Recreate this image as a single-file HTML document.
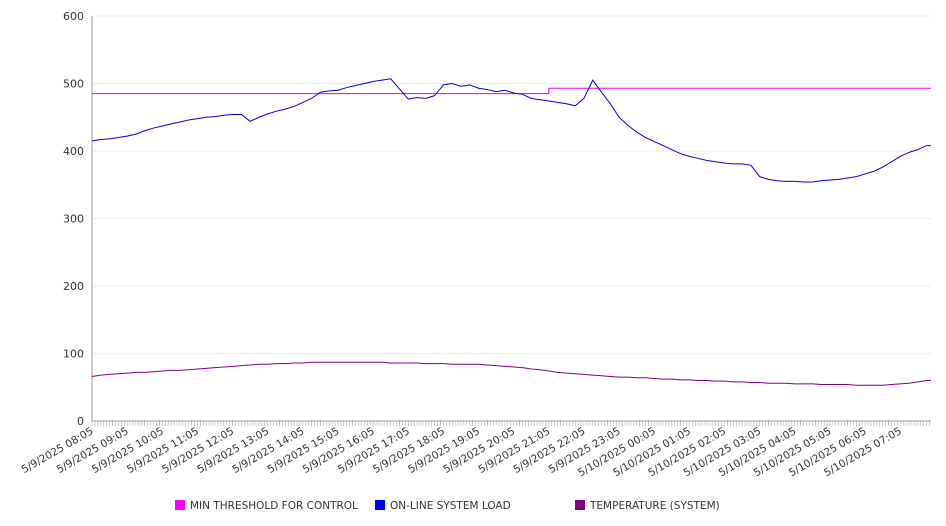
<!DOCTYPE html>
<html><head><meta charset="utf-8"><style>
html,body{margin:0;padding:0;background:#fff;}
svg{display:block;font-family:"DejaVu Sans","Liberation Sans",sans-serif;}
</style></head><body>
<svg id="chart" width="946" height="526" viewBox="0 0 946 526" xmlns="http://www.w3.org/2000/svg"></svg>
<script>
const loadValues=[415,417,418,420,422,425,430,434,437,440,443,446,448,450,451,453,454,454,444,450,455,459,462,466,472,478,487,489,490,494,497,500,503,505,507,492,477,479,478,482,498,500,496,498,493,491,488,490,486,484,478,476,474,472,470,467,478,505,487,470,450,438,428,420,414,408,402,396,392,389,386,384,382,381,381,379,362,358,356,355,355,354,354,356,357,358,360,362,366,370,376,384,392,398,402,408];
const tempValues=[66,68,69,70,71,72,72,73,74,75,75,76,77,78,79,80,81,82,83,84,84,85,85,86,86,87,87,87,87,87,87,87,87,87,86,86,86,86,85,85,85,84,84,84,84,83,82,81,80,79,77,76,74,72,71,70,69,68,67,66,65,65,64,64,63,62,62,61,61,60,60,59,59,58,58,57,57,56,56,56,55,55,55,54,54,54,54,53,53,53,53,54,55,56,58,60];
const thresholdValues=loadValues.map((v,i)=>i<52?485:493);
const yTicks=[0,100,200,300,400,500,600];
const hourLabels=["5/9/2025 08:05","5/9/2025 09:05","5/9/2025 10:05","5/9/2025 11:05","5/9/2025 12:05","5/9/2025 13:05","5/9/2025 14:05","5/9/2025 15:05","5/9/2025 16:05","5/9/2025 17:05","5/9/2025 18:05","5/9/2025 19:05","5/9/2025 20:05","5/9/2025 21:05","5/9/2025 22:05","5/9/2025 23:05","5/10/2025 00:05","5/10/2025 01:05","5/10/2025 02:05","5/10/2025 03:05","5/10/2025 04:05","5/10/2025 05:05","5/10/2025 06:05","5/10/2025 07:05"];

const NS="http://www.w3.org/2000/svg";
const svg=document.getElementById('chart');
const L=92,R=931,T=16,B=421;
const n=loadValues.length;
const xS=i=>L+(i/(n-0.5))*(R-L);
const yS=v=>B-(v/600)*(B-T);
function mk(tag,attrs){const e=document.createElementNS(NS,tag);for(const k in attrs)e.setAttribute(k,attrs[k]);svg.appendChild(e);return e;}

yTicks.forEach(v=>{
  const g=mk('line',{x1:L,x2:R,y1:yS(v),y2:yS(v),stroke:v===0?'#999':'#ebebeb','stroke-width':1});
  
  
  const t=mk('text',{x:L-8,y:yS(v)+4,'text-anchor':'end','font-size':11,fill:'#333'});
  t.textContent=v;
  
  
});
const ax=mk('line',{x1:L,x2:L,y1:T,y2:B,stroke:'#999'});



const slots=n*3;
for(let k=0;k<slots;k++){
  const x=L+(k/(slots-1.5))*(R-L);
  if(x>R)break;
  const tk=mk('line',{x1:x,x2:x,y1:B,y2:B+5,stroke:'#aaa','stroke-width':0.6});
  
  
}
hourLabels.forEach((lab,h)=>{
  const x=xS(h*4);
  const t=mk('text',{x:x+2,y:B+12,'text-anchor':'end','font-size':10.5,fill:'#333',transform:`rotate(-30 ${x+2} ${B+12})`});
  t.textContent=lab;
  
  
});

function series(vals,color,name,step,extend){
  let d='';
  vals.forEach((v,i)=>{
    if(i===0){d+=`M${xS(i)},${yS(v)}`;}
    else if(step && v!==vals[i-1]){d+=`L${xS(i)},${yS(vals[i-1])}L${xS(i)},${yS(v)}`;}
    else d+=`L${xS(i)},${yS(v)}`;
  });
  if(extend)d+=`L${R},${yS(vals[vals.length-1])}`;
  const p=mk('path',{d,fill:'none',stroke:color,'stroke-width':1});
  
  
}
series(thresholdValues,'#e000e0','threshold-line',true,true);
series(loadValues,'#0000dd','load-line',false,true);
series(tempValues,'#800080','temperature-line',false,true);

const legend=[["MIN THRESHOLD FOR CONTROL","#ff00ff",175],["ON-LINE SYSTEM LOAD","#0000ff",375],["TEMPERATURE (SYSTEM)","#800080",575]];
legend.forEach(([lab,c,x])=>{
  const r=mk('rect',{x:x,y:500,width:10,height:10,fill:c});
  
  
  const t=mk('text',{x:x+15,y:509,'font-size':10.5,fill:'#333'});
  t.textContent=lab;
  
  
});
</script>
</body></html>
